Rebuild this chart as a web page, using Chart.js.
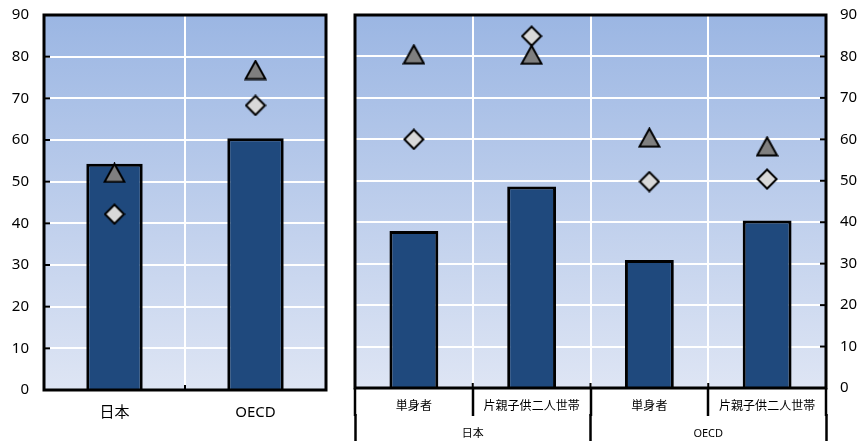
<!DOCTYPE html>
<html>
<head>
<meta charset="utf-8">
<script src="https://cdn.jsdelivr.net/npm/chart.js@4/dist/chart.umd.min.js"></script>
<style>
  html, body { margin: 0; padding: 0; background: #fff; }
  #wrap { position: relative; width: 866px; height: 441px; overflow: hidden; }
  canvas { position: absolute; top: 0; }
  #c1 { left: 0; }
  #c2 { left: 340px; }
</style>
</head>
<body>
<div id="wrap">
  <canvas id="c1" width="340" height="441"></canvas>
  <canvas id="c2" width="526" height="441"></canvas>
</div>
<script>
// ---- data ----
const leftCategories = ['日本', 'OECD'];
const leftBars = [54.3, 60.4];
const leftTriangles = [52.1, 76.8];
const leftDiamonds = [42.2, 68.3];

const rightCategories = ['単身者', '片親子供二人世帯', '単身者', '片親子供二人世帯'];
const rightGroups = ['日本', 'OECD'];
const rightBars = [37.9, 48.6, 30.9, 40.4];
const rightTriangles = [80.5, 80.4, 60.4, 58.3];
const rightDiamonds = [60.0, 84.9, 49.8, 50.4];

const yMin = 0, yMax = 90, yStep = 10;

// ---- styles ----
const FONT = '"Noto Sans", "Noto Sans CJK JP", sans-serif';
const BAR_COLOR = '#1f497d';

function makeTriangle() {
  const c = document.createElement('canvas');
  c.width = 23; c.height = 21;
  const g = c.getContext('2d');
  g.beginPath();
  g.moveTo(11.5, 1.5);
  g.lineTo(21.5, 19.5);
  g.lineTo(1.5, 19.5);
  g.closePath();
  g.fillStyle = '#7f7f7f';
  g.fill();
  g.lineWidth = 2;
  g.lineJoin = 'miter';
  g.strokeStyle = '#000';
  g.stroke();
  return c;
}
function makeDiamond() {
  const c = document.createElement('canvas');
  c.width = 22; c.height = 22;
  const g = c.getContext('2d');
  g.beginPath();
  g.moveTo(11, 1.5);
  g.lineTo(20.5, 11);
  g.lineTo(11, 20.5);
  g.lineTo(1.5, 11);
  g.closePath();
  g.fillStyle = '#d9d9d9';
  g.fill();
  g.lineWidth = 2;
  g.strokeStyle = '#000';
  g.stroke();
  return c;
}
const triImg = makeTriangle();
const diaImg = makeDiamond();

const panelPlugin = {
  id: 'panel',
  beforeDraw(chart) {
    const a = chart.chartArea, ctx = chart.ctx;
    const grad = ctx.createLinearGradient(0, a.top, 0, a.bottom);
    grad.addColorStop(0, 'rgb(155,182,227)');
    grad.addColorStop(1, 'rgb(222,229,244)');
    ctx.save();
    ctx.fillStyle = grad;
    ctx.fillRect(a.left, a.top, a.right - a.left, a.bottom - a.top);
    ctx.restore();
  },
  afterDraw(chart) {
    const a = chart.chartArea, ctx = chart.ctx;
    ctx.save();
    ctx.strokeStyle = '#000';
    // inner ticks on y axis
    const ys = chart.scales.y;
    const side = ys.position === 'left' ? a.left : a.right;
    const dir = ys.position === 'left' ? 1 : -1;
    ctx.lineWidth = 2;
    ys.ticks.forEach(t => {
      const py = ys.getPixelForValue(t.value);
      ctx.beginPath();
      ctx.moveTo(side, py);
      ctx.lineTo(side + dir * 6, py);
      ctx.stroke();
    });
    // inner ticks on x axis between categories
    const xs = chart.scales.x;
    for (let i = 0; i < xs.ticks.length - 1; i++) {
      const px = (xs.getPixelForTick(i) + xs.getPixelForTick(i + 1)) / 2;
      ctx.beginPath();
      ctx.moveTo(px, a.bottom);
      ctx.lineTo(px, a.bottom - 5);
      ctx.stroke();
    }
    // frame
    ctx.lineWidth = 3;
    ctx.strokeRect(a.left, a.top, a.right - a.left, a.bottom - a.top);
    ctx.restore();
  }
};

function datasets(bars, tris, dias, pct) {
  return [
    {
      type: 'scatter', label: 'tri', data: tris, showLine: false,
      pointStyle: triImg, pointRadius: 10, pointHoverRadius: 10, order: 0
    },
    {
      type: 'scatter', label: 'dia', data: dias, showLine: false,
      pointStyle: diaImg, pointRadius: 10, pointHoverRadius: 10, order: 1
    },
    {
      type: 'bar', label: 'bar', data: bars,
      backgroundColor: BAR_COLOR, borderColor: '#000', borderWidth: 3,
      borderSkipped: 'start', barPercentage: pct, categoryPercentage: 1, order: 2
    }
  ];
}

const yTickFont = { family: FONT, size: 15 };
function fixY(width) {
  return s => { s.width = width; s.paddingTop = 0; s.paddingBottom = 0; };
}
function fixX(height) {
  return s => { s.height = height; s.paddingLeft = 0; s.paddingRight = 0; };
}

// ---- left chart ----
new Chart(document.getElementById('c1'), {
  data: { labels: leftCategories, datasets: datasets(leftBars, leftTriangles, leftDiamonds, 0.4) },
  options: {
    responsive: false, devicePixelRatio: 1, animation: false,
    layout: { autoPadding: false, padding: { top: 15, right: 14, left: 0, bottom: 0 } },
    plugins: { legend: { display: false }, tooltip: { enabled: false } },
    scales: {
      x: {
        type: 'category', offset: true,
        grid: { offset: true, color: '#ffffff', lineWidth: 2, drawTicks: false },
        border: { display: false },
        ticks: { color: '#000', font: { family: FONT, size: 15 }, padding: 14 },
        afterFit: fixX(51)
      },
      y: {
        position: 'left', min: yMin, max: yMax,
        grid: { color: '#ffffff', lineWidth: 2, drawTicks: false },
        border: { display: false },
        ticks: { stepSize: yStep, color: '#000', font: yTickFont, padding: 15 },
        afterFit: fixY(44)
      }
    }
  },
  plugins: [panelPlugin]
});

// ---- right chart ----
new Chart(document.getElementById('c2'), {
  data: { labels: rightCategories, datasets: datasets(rightBars, rightTriangles, rightDiamonds, 0.415) },
  options: {
    responsive: false, devicePixelRatio: 1, animation: false,
    layout: { autoPadding: false, padding: { top: 15, right: 0, left: 15, bottom: 0 } },
    plugins: { legend: { display: false }, tooltip: { enabled: false } },
    scales: {
      x: {
        type: 'category', offset: true, weight: 0,
        grid: { offset: true, color: '#ffffff', lineWidth: 2, tickColor: '#000', tickWidth: 2.5, tickLength: 28 },
        border: { display: false },
        ticks: { color: '#000', font: { family: FONT, size: 12 }, padding: -17 },
        afterFit: fixX(26)
      },
      x2: {
        type: 'category', position: 'bottom', offset: true, weight: 1,
        labels: rightGroups,
        grid: { offset: true, drawOnChartArea: false, tickColor: '#000', tickWidth: 2.5, tickLength: 30 },
        border: { display: false },
        ticks: { color: '#000', font: { family: FONT, size: 11 }, padding: -17 },
        afterFit: fixX(27)
      },
      y: {
        position: 'right', min: yMin, max: yMax,
        grid: { color: '#ffffff', lineWidth: 2, drawTicks: false },
        border: { display: false },
        ticks: { stepSize: yStep, color: '#000', font: yTickFont, padding: 14 },
        afterFit: fixY(40)
      }
    }
  },
  plugins: [panelPlugin]
});
</script>
</body>
</html>
